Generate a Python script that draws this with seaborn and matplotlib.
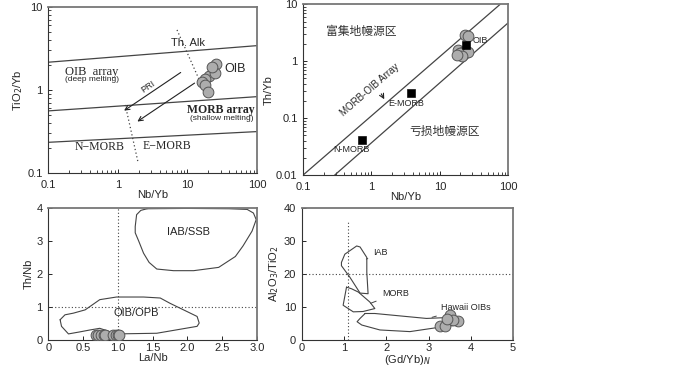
import seaborn as sns
import matplotlib.pyplot as plt

# ---- panel a: TiO2/Yb vs Nb/Yb ----
a_line_x = [0.1, 100]
a_thalk_y = [2.15, 3.4]
a_morb_top_y = [0.56, 0.83]
a_morb_low_y = [0.235, 0.316]
a_dot1_x = [7.1, 16.5]
a_dot1_y = [5.25, 1.08]
a_dot2_x = [1.28, 1.95]
a_dot2_y = [0.66, 0.136]
a_oib_x = [26.1, 23.6, 20.7, 18.1, 16.4, 18.1, 20.0, 25.2, 22.6]
a_oib_y = [2.05, 1.62, 1.47, 1.36, 1.25, 1.15, 0.95, 1.60, 1.90]

# ---- panel b: Th/Yb vs Nb/Yb ----
b_upper_x = [0.1, 76]
b_upper_y = [0.01, 10]
b_lower_x = [0.29, 100]
b_lower_y = [0.01, 4.75]
b_samp_x = [23.3, 25.8, 18.4, 21.8, 19.7, 25.8, 21.0, 17.8]
b_samp_y = [2.89, 2.77, 1.57, 1.45, 1.39, 1.45, 1.23, 1.28]
b_ref_names = ["N-MORB", "E-MORB", "OIB"]
b_ref_x = [0.73, 3.85, 24.1]
b_ref_y = [0.041, 0.28, 1.93]

# ---- panel c: Th/Nb vs La/Nb ----
c_iab_x = [1.42, 2.00, 2.60, 2.86, 2.95, 2.99, 2.93, 2.80, 2.69, 2.45, 2.09,
           1.80, 1.56, 1.45, 1.37, 1.30, 1.25, 1.25, 1.27, 1.33, 1.42]
c_iab_y = [3.98, 3.99, 3.98, 3.96, 3.85, 3.65, 3.30, 2.85, 2.53, 2.20, 2.10,
           2.10, 2.15, 2.35, 2.63, 3.00, 3.25, 3.44, 3.80, 3.93, 3.98]
c_oib_x = [0.17, 0.19, 0.29, 0.45, 0.60, 0.74, 0.98, 1.56, 2.14, 2.17, 2.14,
           1.75, 1.61, 1.37, 0.98, 0.74, 0.53, 0.36, 0.24, 0.17]
c_oib_y = [0.61, 0.41, 0.18, 0.24, 0.30, 0.35, 0.18, 0.20, 0.41, 0.51, 0.71,
           1.11, 1.27, 1.30, 1.30, 1.22, 0.91, 0.81, 0.76, 0.61]
c_samp_x = [0.68, 0.71, 0.76, 0.80, 0.82, 0.93, 0.97, 1.00, 1.02]
c_samp_y = [0.15, 0.15, 0.15, 0.15, 0.15, 0.15, 0.15, 0.15, 0.15]

# ---- panel d: Al2O3/TiO2 vs (Gd/Yb)N ----
d_iab_x = [0.94, 1.02, 1.30, 1.38, 1.54, 1.54, 1.57, 1.38, 1.14, 0.94, 0.94]
d_iab_y = [23.5, 26.0, 28.5, 28.2, 25.0, 20.5, 14.0, 14.2, 19.0, 22.5, 23.5]
d_morb_x = [1.06, 0.98, 1.22, 1.45, 1.73, 1.61, 1.34, 1.18, 1.06]
d_morb_y = [16.0, 10.5, 8.5, 8.6, 9.5, 11.5, 14.5, 15.5, 16.0]
d_haw_x = [1.50, 1.73, 2.95, 3.50, 3.82, 3.70, 3.35, 2.56, 1.85, 1.42, 1.31, 1.38, 1.50]
d_haw_y = [8.0, 8.0, 6.5, 6.8, 5.5, 4.5, 4.0, 2.5, 3.0, 4.5, 5.5, 6.5, 8.0]
d_samp_x = [3.51, 3.27, 3.39, 3.70, 3.58, 3.43]
d_samp_y = [7.5, 4.2, 4.2, 5.8, 6.0, 6.3]

sns.set_style("ticks")
plt.rcParams['font.family'] = ['Liberation Sans', 'DejaVu Sans']
plt.rcParams['font.size'] = 8

fig = plt.figure(figsize=(7, 3.67), dpi=100)
ax1 = fig.add_axes([0.069, 0.528, 0.298, 0.454])
ax2 = fig.add_axes([0.433, 0.523, 0.293, 0.465])
ax3 = fig.add_axes([0.069, 0.074, 0.298, 0.359])
ax4 = fig.add_axes([0.431, 0.074, 0.302, 0.359])

circ = dict(s=60, color="#adadad", edgecolor="#555555", linewidth=0.7, zorder=4)
serif = ['Liberation Serif', 'DejaVu Serif']

# panel a
for yy in (a_thalk_y, a_morb_top_y, a_morb_low_y):
    ax1.plot(a_line_x, yy, color="#444444", lw=0.9)
ax1.plot(a_dot1_x, a_dot1_y, ls=(0, (1, 2)), color="#444444", lw=0.9)
ax1.plot(a_dot2_x, a_dot2_y, ls=(0, (1, 2)), color="#444444", lw=0.9)
ax1.annotate("", xy=(1.14, 0.54), xytext=(8.65, 1.69),
             arrowprops=dict(arrowstyle="->", color="#222222", lw=0.8))
ax1.annotate("", xy=(1.77, 0.40), xytext=(13.7, 1.26),
             arrowprops=dict(arrowstyle="->", color="#222222", lw=0.8))
sns.scatterplot(x=a_oib_x, y=a_oib_y, ax=ax1, **circ)
ax1.set_xscale("log")
ax1.set_yscale("log")
ax1.set_xlim(0.1, 100)
ax1.set_ylim(0.1, 10)
ax1.text(10.3, 3.67, "Th. Alk", ha="center", va="center", fontsize=8)
ax1.text(0.42, 1.66, "OIB  array", ha="center", va="center", fontsize=9, family=serif)
ax1.text(0.42, 1.32, "(deep melting)", ha="center", va="center", fontsize=6)
ax1.text(49, 1.77, "OIB", ha="center", va="center", fontsize=9)
ax1.text(2.74, 1.08, "PRI", ha="center", va="center", fontsize=6.5, rotation=34)
ax1.text(30, 0.575, "MORB array", ha="center", va="center", fontsize=8.5,
         family=serif, fontweight="bold")
ax1.text(31, 0.449, "(shallow melting)", ha="center", va="center", fontsize=6)
ax1.text(0.556, 0.209, "N\u2212MORB", ha="center", va="center", fontsize=8.5, family=serif)
ax1.text(5.08, 0.215, "E\u2212MORB", ha="center", va="center", fontsize=8.5, family=serif)
ax1.set_xlabel("Nb/Yb", labelpad=0)
ax1.set_ylabel("TiO$_2$/Yb", labelpad=2)
ax1.set_xticks([0.1, 1, 10, 100])
ax1.set_xticklabels(["0.1", "1", "10", "100"])
ax1.set_yticks([0.1, 1, 10])
ax1.set_yticklabels(["0.1", "1", "10"])

# panel b
ax2.plot(b_upper_x, b_upper_y, color="#444444", lw=0.9)
ax2.plot(b_lower_x, b_lower_y, color="#444444", lw=0.9)
sns.scatterplot(x=b_samp_x, y=b_samp_y, ax=ax2, **circ)
sns.scatterplot(x=b_ref_x, y=b_ref_y, ax=ax2, marker="s", s=30, color="black",
                edgecolor="black", zorder=5)
ax2.annotate("", xy=(1.61, 0.195), xytext=(1.33, 0.295),
             arrowprops=dict(arrowstyle="->", color="#222222", lw=0.8))
ax2.set_xscale("log")
ax2.set_yscale("log")
ax2.set_xlim(0.1, 100)
ax2.set_ylim(0.01, 10)
ax2.text(0.51, 0.0286, "N-MORB", ha="center", va="center", fontsize=6.5)
ax2.text(3.27, 0.182, "E-MORB", ha="center", va="center", fontsize=6.5)
ax2.text(39.5, 2.36, "OIB", ha="center", va="center", fontsize=6.5)
ax2.text(0.95, 0.31, "MORB-OIB Array", ha="center", va="center", fontsize=7, rotation=41)
cjk = ['Noto Sans CJK SC', 'DejaVu Sans']
ax2.text(0.72, 3.3, "富集地幔源区", ha="center", va="center", fontsize=8.5,
         family=cjk, color="#333333")
ax2.text(11.9, 0.058, "亏损地幔源区", ha="center", va="center", fontsize=8.5,
         family=cjk, color="#333333")
ax2.set_xlabel("Nb/Yb", labelpad=0)
ax2.set_ylabel("Th/Yb", labelpad=2)
ax2.set_xticks([0.1, 1, 10, 100])
ax2.set_xticklabels(["0.1", "1", "10", "100"])
ax2.set_yticks([0.01, 0.1, 1, 10])
ax2.set_yticklabels(["0.01", "0.1", "1", "10"])

# panel c
ax3.plot(c_iab_x, c_iab_y, color="#444444", lw=0.8)
ax3.plot(c_oib_x, c_oib_y, color="#444444", lw=0.8)
ax3.axvline(1.0, ls=(0, (1, 2)), color="#444444", lw=0.8)
ax3.axhline(1.0, ls=(0, (1, 2)), color="#444444", lw=0.8)
sns.scatterplot(x=c_samp_x, y=c_samp_y, ax=ax3, **circ)
ax3.set_xlim(0, 3.0)
ax3.set_ylim(0, 4)
ax3.set_xticks([0, 0.5, 1.0, 1.5, 2.0, 2.5, 3.0])
ax3.set_xticklabels(["0", "0.5", "1.0", "1.5", "2.0", "2.5", "3.0"])
ax3.set_yticks([0, 1, 2, 3, 4])
ax3.text(1.27, 0.8, "OIB/OPB", ha="center", va="center", fontsize=8)
ax3.text(2.02, 3.28, "IAB/SSB", ha="center", va="center", fontsize=8)
ax3.set_xlabel("La/Nb", labelpad=0)
ax3.set_ylabel("Th/Nb", labelpad=2)

# panel d
ax4.plot(d_iab_x, d_iab_y, color="#444444", lw=0.8)
ax4.plot(d_morb_x, d_morb_y, color="#444444", lw=0.8)
ax4.plot(d_haw_x, d_haw_y, color="#444444", lw=0.8)
ax4.plot([1.1, 1.1], [0, 36], ls=(0, (1, 2)), color="#444444", lw=0.8)
ax4.axhline(20, ls=(0, (1, 2)), color="#444444", lw=0.8)
sns.scatterplot(x=d_samp_x, y=d_samp_y, ax=ax4, **circ)
ax4.annotate("IAB", xy=(1.53, 24.5), xytext=(1.7, 26.5), fontsize=6.5,
             va="center", arrowprops=dict(arrowstyle="-", color="#444444", lw=0.7))
ax4.annotate("MORB", xy=(1.57, 10.8), xytext=(1.9, 14.0), fontsize=6.5,
             va="center", arrowprops=dict(arrowstyle="-", color="#444444", lw=0.7))
ax4.annotate("Hawaii OIBs", xy=(3.02, 6.6), xytext=(3.3, 9.8), fontsize=6.5,
             va="center", arrowprops=dict(arrowstyle="-", color="#444444", lw=0.7))
ax4.set_xlim(0, 5)
ax4.set_ylim(0, 40)
ax4.set_xticks([0, 1, 2, 3, 4, 5])
ax4.set_yticks([0, 10, 20, 30, 40])
ax4.set_xlabel("(Gd/Yb)$_N$", labelpad=0)
ax4.set_ylabel("Al$_2$O$_3$/TiO$_2$", labelpad=2)

for ax in (ax1, ax2, ax3, ax4):
    ax.tick_params(which="both", direction="in", labelsize=8,
                   top=False, right=False)
    ax.tick_params(axis="y", which="both", pad=4)
    ax.tick_params(which="major", length=3, width=0.7)
    ax.tick_params(which="minor", length=2, width=0.6)
    for side in ("left", "bottom"):
        ax.spines[side].set_color("#333333")
        ax.spines[side].set_linewidth(0.8)
    for side in ("top", "right"):
        ax.spines[side].set_visible(True)
        ax.spines[side].set_color("#777777")
        ax.spines[side].set_linewidth(1.3)
for ax in (ax1, ax2):
    ax.tick_params(axis="x", which="both", pad=5)
for ax in (ax3, ax4):
    ax.tick_params(axis="x", which="both", pad=2.5)

fig.savefig("out.png", dpi=100)
